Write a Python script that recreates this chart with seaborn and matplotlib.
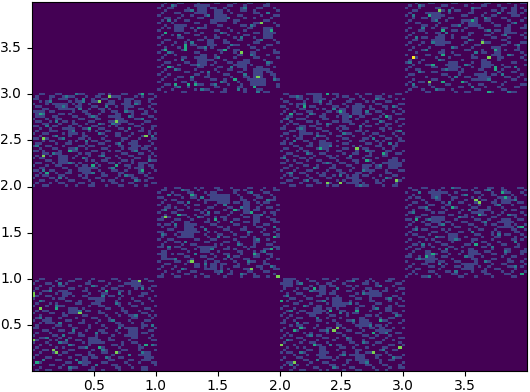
import numpy as np
import matplotlib
matplotlib.use('Agg')
import matplotlib.pyplot as plt
import seaborn as sns

# counts per bin (top row first)
# square names: x range then y range
# strings = single counts, blobs = (row, col, h, w) patches of ones,
# twos = (row, col) cells with count 2, peaks = (row, col, count)
sq_x0_y2 = """
00110001100002110000110100011000100110
01000110010110001001100011100001010001
11000100111001000010011000100110000110
00101100000101120011000110000101100100
10001011000010100100001110010001100011
01100001120001100011000001001110000100
00011000100110000100110100001000110010
11000110000010011000010011000110001001
01210000110100001100100001100010011000
00100011000011000101000110000210000110
10001001100000110001100001010001100001
01100100011010000110000110011000001100
00011000100011001000210000100110010000
11000011000100100011000101000001100011
00100100011000011000110000110100010010
01000111000100000101001100001000110100
10011000010011010000110001100010000101
00100012000100011000001001100100011000
11001000110000110100010000011000100011
00010110000101000011001100010011000100
01100001001100001000110001000110000010
10001100010000110110000100110000101100
00100011000110001000011000010100011001
11010000100011000011000101100001000100
00011001100000101100010000011000110010
01000100011001000100110001000110000101
10110000100010011000001100100001100100
00001100011000001010011000011010000011
01100010000110100001000110100010011000
10001001100001011000100001001100000110
00110000011000100011000110000101100010
11000110000100110000100011001000010001
00100001001100000110010000110000110100
01011000110000101000011000100110001000
10000110001000011001100001000011000110
00110001000110000100010110010000101000
01000100110000110010000011000110000011
10011000001001000110001000110001001000
"""
blobs_x0_y2 = [(4, 8, 3, 3), (7, 1, 3, 3), (9, 25, 4, 2), (20, 30, 4, 2), (14, 11, 3, 2), (25, 8, 4, 3), (30, 15, 3, 3), (28, 32, 4, 2), (2, 28, 3, 2)]
twos_x0_y2 = [(1, 10), (2, 15), (3, 5), (4, 31), (5, 22), (6, 14), (7, 28), (8, 3), (9, 18), (10, 33), (11, 7), (12, 24),
              (13, 4), (14, 29), (15, 12), (16, 20), (17, 36), (18, 9), (19, 16), (20, 26), (21, 1), (22, 13), (23, 31),
              (24, 6), (25, 21), (26, 15), (27, 35), (28, 11), (30, 24), (31, 3), (32, 18), (33, 28), (34, 8), (35, 31)]
peaks_x0_y2 = [(1, 23, 4), (3, 20, 4), (0, 33, 3), (11, 25, 4), (17, 34, 4), (18, 3, 4), (25, 3, 4),
               (14, 17, 3), (29, 18, 3), (23, 11, 3), (29, 25, 3), (31, 33, 3), (32, 4, 3), (8, 2, 3)]

sq_x2_y2 = """
01100000110010001100000100110001000110
00011010000110000101100010000110010000
10000110100001001000011001000011000101
01100001001100010000110000101000110000
00010110000010110001000110000110000011
11000100011000001100100001010001100100
00100011000101000011000100011000100010
01001000110000110100001100000110001001
10000110001001000011001000110001000110
00110000100011000100010011000010110000
01000111000001100001000100001100010011
10010000110100001100110000100011000100
00101100000110010000011001000100110001
01000010011000100011000010110000100010
11000100000110000101100010000011010000
00011001000001100010000110100001000110
01100000110100010000110001001100001001
10001010000011000110001000010011000100
00100110001000100001100001100000110010
01000001100011000100010011000101000011
11010000010000110001100000110010000100
00001100110001000100001010000110001100
01100010000110100001100001100001001000
10000101100000100110000100011000110001
00110000010011000001001100010000100110
01001100001000110100010000110001100000
10000011010000011000110001000100001100
00101000100110000100001100110000010001
11000110000001010011000100001001100010
00010001100100001000110000110100000110
01100100001100011000001001000110010000
10001000110000100110010000011000100011
00100011000101000011000110010000110000
01010000100011001000100001100010001100
10001100010000110000110100001000110001
00110001001100000101000110000101000010
11000010000110010000110001000110000100
00011000110000101100000101100001001100
"""
blobs_x2_y2 = [(0, 10, 4, 3), (5, 22, 4, 3), (6, 18, 3, 2), (13, 6, 4, 2), (20, 12, 3, 3), (27, 33, 4, 3), (29, 25, 3, 2), (8, 19, 4, 2), (33, 22, 4, 2)]
twos_x2_y2 = [(1, 5), (2, 29), (3, 12), (4, 7), (5, 34), (6, 16), (7, 26), (8, 9), (9, 21), (10, 2), (11, 30), (12, 14),
              (13, 24), (14, 6), (15, 36), (16, 19), (17, 11), (18, 28), (19, 4), (20, 33), (21, 15), (23, 26), (24, 8),
              (25, 21), (26, 1), (28, 14), (29, 30), (30, 10), (31, 25), (32, 3), (33, 18), (34, 32), (35, 8), (37, 24)]
peaks_x2_y2 = [(22, 23, 4), (36, 14, 4), (36, 18, 4), (35, 35, 4), (22, 12, 3), (9, 32, 3),
               (8, 3, 3), (27, 26, 3), (24, 31, 3), (7, 18, 3), (0, 14, 3), (5, 7, 3)]

sq_x1_y1 = """
00100110000101000110001000011000100100
01100000110010000011000110100001000110
10001000011000101100000100011000110000
00010110000100010000110010000110001001
11000001001100000110010001000011000100
00101100000010110000100001100100001100
01000011010000100011000110000010110000
10010000100110000100100000110001000011
00110100010000011000011000100010011000
01000011000110100000100110000110000010
10001100000001000110001000110000101100
00100001100100110000010001000110000101
01010000010011000101100000110100010000
11000110001000010000100110000010001100
00001000110000110010001000110100000110
10110000010100001100000110000100110000
01000100110001000011010000100011000101
00011000001100100000110001100000100010
11000010000110010100001000011001000100
00100101100000100011000100010000110010
01000010011000010000110001100100000110
10011000000110001100000100000110010001
00100110100000110000110010000110000100
01000001001100000101000011000100011000
11000110000010001100010000101100000110
00010001100100100000110100010000110010
01100000010001100010000011000101000001
10001011000100001000110001000010011000
00100000110001100100000110000110001000
01011000001000011000101000110000010011
10000110010000100110000100001100100000
00110000100110000001100010010000110001
01000100000110100001000110000011000100
10001001100000110001010000110001000110
00100010001100000110001000011000110000
01001000110001000010011000100100000101
11000110000100110000100001000110010000
00010000110001001100001100010000011000
"""
blobs_x1_y1 = [(3, 16, 3, 4), (4, 19, 3, 3), (15, 8, 5, 3), (18, 7, 3, 3), (24, 13, 3, 3), (26, 1, 4, 2), (6, 26, 4, 2), (12, 29, 3, 2), (31, 16, 3, 2)]
twos_x1_y1 = [(1, 7), (2, 28), (3, 3), (4, 13), (5, 33), (6, 9), (7, 20), (8, 25), (9, 2), (10, 15), (11, 31), (12, 12),
              (14, 22), (15, 5), (16, 35), (17, 14), (18, 27), (19, 1), (20, 18), (21, 30), (22, 8), (23, 24), (24, 3),
              (25, 16), (26, 32), (27, 11), (28, 21), (29, 5), (30, 27), (31, 14), (32, 34), (33, 7), (34, 19), (35, 25)]
peaks_x1_y1 = [(12, 2, 4), (30, 10, 4), (33, 28, 4), (36, 36, 4), (13, 17, 3), (11, 6, 3), (27, 29, 3),
               (25, 34, 3), (20, 35, 3), (9, 23, 3), (10, 28, 3), (3, 10, 3)]

sq_x3_y1 = """
01000110000100011000010001100100001100
00110000101000000110100010000110000010
10001001000110010000011000100011000101
00100000110001000110000100110000100010
01011000010000110000101000001100010000
10000100011000100010000110010000110001
00110010000100001100010000110001001100
01000001100011000001001000011000100000
10001100000100110000110001000100000110
00100011000010000101000011000010110000
01100000101100001000110000100100000101
10000110000001100010000110001000110010
00011000100100000110100000110000010001
11000010001100010000011001000100001100
00100100000011000110000100001100100000
01000011001000100001100010110000010010
10010000110000011000010000001100100001
00100110000101000001001100010000110010
01000000110010001100100000101000011000
10110001000000110000011000100011000100
00001100001100100010000100011000010011
01000010100000011000110000100000110100
10001000011000100000100110001000010000
00110001000110000011000001000110001001
01000100100001100100000110100000011000
10011000001000010001100000100011000010
00100011000110000100010011000001000110
01000000110001001000011000110010000100
11001000000110000011000100000100110000
00010110010000100000110000110001000011
10000001001100011000010001000001100100
00100110000010000100110000100110000010
01000001100100011000001001000001100100
10011000001000000110100010011000010001
00100001100011000000100110000100100010
01010000010000110010000011000011000100
10000110001000001100010000100000110001
00100000110010000100110001000110000010
"""
blobs_x3_y1 = [(2, 8, 3, 3), (4, 29, 3, 3), (12, 8, 3, 3), (13, 30, 4, 2), (25, 19, 4, 2), (27, 6, 4, 3), (31, 18, 3, 3), (19, 13, 3, 3), (9, 22, 3, 2)]
twos_x3_y1 = [(0, 14), (1, 25), (2, 4), (3, 18), (4, 9), (5, 33), (6, 13), (7, 28), (8, 6), (9, 19), (10, 2), (11, 31),
              (12, 16), (13, 7), (14, 24), (15, 11), (16, 34), (17, 3), (18, 20), (19, 28), (20, 9), (21, 15), (22, 33),
              (23, 5), (24, 26), (25, 12), (26, 30), (28, 18), (29, 4), (30, 24), (31, 10), (32, 33), (34, 15), (36, 7)]
peaks_x3_y1 = [(5, 21, 4), (6, 22, 4), (11, 22, 3), (8, 14, 3), (28, 6, 3), (27, 8, 3), (35, 35, 3),
               (16, 35, 3), (23, 21, 3), (13, 3, 3), (2, 29, 3), (4, 30, 3)]

sq_x2_y0 = """
00011000100001100100001100010000011000
01000100011000001000110000101000110001
10000110000100110001000001100100000110
00110000010000011000110100000110001000
01000101100010000100001000110000100011
10001000001100001000110001000001100100
00100110000010011000000101100010000001
01000001000110000100011000000110001100
00011000110000101000000110010000100010
10100010000110001100010000011000010001
00001100010000100001100100000110000100
01100000100110000001000011001000010011
10001000001000110100000100001100110000
00100011000001000011000100010000110001
01000100110000100000101100000010001100
10010000011000011000100000110100000010
00100110000100100010000011000010011000
01001000000110001000110000100001100001
11000001100000100100001000110000010010
00010110000100000110000100000110100000
01000001001000110001000010011000001001
10001100000011000000110001000100110000
00100001010000100110000110000010000110
01010000100110000001000001100100010000
10000110000001100100010000011000100011
00110001000100001000110001000001001000
01000010011000100000011000100110000010
10001000000110000110000100001000011001
00100101000001000011001000100001100000
01000000110010000100000110000010001100
10110001000001100001000100110000100000
00001000100110000010011000000110010001
01000110000000110100000011000100000110
10000001100100001000110000100010011000
00110000010001100000100011000010000001
01000100100000011001000000110001100010
10001000001100000100011000001000010011
00010011000010100001000110000100100000
"""
blobs_x2_y0 = [(0, 1, 4, 3), (3, 12, 4, 2), (8, 16, 4, 3), (12, 10, 3, 3), (17, 24, 3, 3), (28, 12, 5, 2), (31, 23, 3, 3), (20, 30, 3, 2), (5, 27, 3, 3)]
twos_x2_y0 = [(1, 22), (2, 6), (3, 30), (4, 17), (5, 9), (6, 25), (7, 2), (8, 33), (9, 13), (10, 21), (11, 7), (12, 29),
              (13, 3), (14, 18), (15, 35), (16, 11), (17, 22), (18, 5), (19, 27), (21, 14), (22, 32), (23, 9), (24, 20),
              (25, 2), (26, 25), (27, 15), (29, 31), (30, 6), (31, 19), (32, 34), (33, 11), (34, 26), (35, 3), (36, 16)]
peaks_x2_y0 = [(20, 17, 4), (21, 16, 4), (27, 0, 4), (28, 36, 4), (30, 28, 4), (34, 4, 4), (21, 4, 3),
               (20, 6, 3), (27, 10, 3), (13, 23, 3), (13, 15, 3), (9, 0, 3), (4, 10, 3), (22, 28, 3), (17, 30, 3)]

sq_x0_y0 = """
00110000100001100010000011000100001000
01000001000110000100110000100010000110
10001100001000001100000100001100100000
00100010110000100001001000110000010011
01000100000110001000010011000001000100
10011000100000011000100000110100000010
00100001001100000100011000000100011000
01001100000010011000000110010000110001
10000010110000000110010000100010000100
00110000001100100000110001000001100010
01000101000001100010000001100100010000
10001000110000000100110000100011000001
00100001000110010000001100010000001100
01011000000100001100100000011000100010
10000110010000100000110001001000011000
00100000011000011000001000100110000101
01000100100001000011000100000011000010
10010000001100010000100110000100001100
00100110000000110001000001100010010000
01000001100100000100010000110000011000
11000010000011000100001000001100010001
00011000110000001000110001000100000110
01000100000110100000011000100010011000
10000011000000110001000010001100000010
00110000100100000110000100000011000100
01000101000001100000100110000100000011
10001000011000010000110000010011000000
00100100000110000100000011010000100011
01000001010000110000110000100000110000
10011000000110000010001000011000100001
00100010011000000100011000100000011000
01000000100001100110000010000100110000
10001100000100000011000100110000000110
00010001100001001000000110000110010000
01100000001100000100011000001000100011
10000110010000001001000011000100000001
00100000100011000010000001100010011000
01001100000100000110010000100000011000
"""
blobs_x0_y0 = [(20, 29, 4, 3), (1, 30, 3, 3), (32, 15, 4, 2), (30, 34, 4, 2), (8, 19, 3, 2), (12, 11, 3, 3), (24, 17, 3, 3), (5, 9, 3, 2), (16, 4, 3, 2)]
twos_x0_y0 = [(2, 8), (4, 33), (5, 5), (6, 26), (7, 21), (9, 2), (10, 25), (11, 7), (13, 14), (15, 31), (16, 2), (17, 24),
              (18, 8), (19, 36), (20, 26), (21, 12), (22, 19), (23, 9), (24, 4), (25, 10), (26, 8), (27, 11), (27, 36),
              (28, 16), (29, 21), (30, 33), (31, 29), (32, 22), (33, 3), (33, 13), (34, 14), (35, 19), (36, 11), (3, 18)]
peaks_x0_y0 = [(1, 32, 4), (12, 2, 4), (14, 14, 4), (29, 6, 4), (30, 7, 4), (30, 25, 4), (6, 0, 4), (7, 0, 4),
               (25, 0, 4), (34, 1, 3), (5, 22, 3), (12, 7, 3), (28, 20, 3), (27, 34, 3)]

sq_x1_y3 = """
00100011000010000110000100011000010001
01000100000110010000011000100000110000
10011000010000001100100001000011000100
00100000110001100000010001100100000011
01000110000100000110001000000110010000
10000001001000110000100011000001000110
00110010000011000000110000100100001000
01000100110000001000100110000000110001
10001000000110001100000100000110000100
00100001100000100011000001100100000010
01010000001001100000010000011000100001
10000110000100000110001000100000110000
00100000110001000001100010000110000100
01001000000110000100010000110000011000
10000011000000100110000100000100110001
00110000010011000000100011000010000100
01000100100000011000110000000110000010
10001000001100000100000110010000011000
00100010000011001000010000001100100001
01000001100000100011000110000010000100
10011000000110000001000100001100000110
00100100000001100100000011000100010000
01000001100100000110000100000110000011
10000100000010011000100000110000100000
00110000110000000100011000010000011000
01000010001100001000000110001000010001
10001000000011000011000001000011000100
00100110000100000100011000100000110000
01000000110001000010000011000100011000
10010000000110010000110000100000001100
00100011000000110000001000110010000100
01000100001000001100100000011000000110
10000001100100000001100010000110000000
00110000000011001000010001000001100010
01000110010000000110000011000100000011
10001000000100110000100000100011000000
00100001100000001001100000100000110001
01010000001100100000000110001000001000
"""
blobs_x1_y3 = [(1, 12, 4, 3), (3, 17, 5, 3), (9, 5, 3, 3), (10, 32, 5, 3), (22, 12, 4, 3), (27, 29, 5, 3), (31, 28, 3, 5), (15, 15, 3, 2), (24, 24, 3, 3)]
twos_x1_y3 = [(1, 4), (2, 26), (3, 10), (4, 33), (5, 15), (6, 21), (7, 3), (9, 28), (10, 12), (12, 19), (13, 6), (14, 25),
              (15, 31), (16, 10), (17, 22), (18, 14), (20, 3), (21, 28), (22, 18), (23, 7), (24, 33), (25, 12), (26, 22),
              (27, 5), (28, 15), (29, 26), (30, 10), (31, 35), (32, 19), (34, 6), (35, 24), (35, 13), (36, 30), (33, 17)]
peaks_x1_y3 = [(8, 31, 4), (20, 25, 4), (30, 30, 4), (18, 8, 3), (17, 8, 3), (19, 8, 3), (12, 2, 3), (19, 2, 3),
               (11, 34, 3), (26, 3, 3), (19, 20, 3), (31, 23, 3), (34, 29, 3), (33, 5, 3), (33, 9, 3), (33, 11, 3)]

sq_x3_y3 = """
00010001100000110000100011000001000110
01000100000110000010000110001000010000
10001000011000100000011000000110000101
00110000000100011000100000110100000010
01000011000001000001100010000001100100
10000000110100000110000100110000001000
00100110000001100000010001000110000011
01000000100010000110000011000001000100
10011000001000000100110000100000110000
00000110010000110000001000011001000010
01000000100110000010001100000010000110
10001100000000110100000010011000000001
00100010011000000001100000100000110010
01000000001100100001000011000100000100
10000110000000100110000000110001000010
00110000100100000001100100000110000000
01000100000011000010000011000001000110
10001000011000000100011000000110010000
00100001000000110000100000110000001001
01000110000100000011000100000010011000
00010000001100100000000110001000000100
10000011000000011000100000110000100011
00110000010001000000110000001100000100
01000100001100000100000110001000000010
10001000000000110000100011000000110000
00100011000010000001000001100100000011
01000000110000011000100000010011000000
10011000000100000100001100000100001000
00000100110000001100000010001000110001
01100000000110001000010000110000000100
10000010000001000011000001000011001000
00100000110000100000110001000000110010
01001100000100000110000000110010000000
10000001000011000001001100000100000110
00110000100000001100000010001000011000
01000100001100100000011000000110000001
10000011000000010011000000100000110000
00100000100110000000100011000010000010
"""
blobs_x3_y3 = [(4, 8, 3, 3), (14, 9, 4, 3), (7, 19, 3, 3), (18, 27, 4, 2), (24, 13, 4, 3), (29, 22, 3, 3), (24, 23, 3, 3), (2, 32, 4, 2), (10, 30, 3, 2)]
twos_x3_y3 = [(1, 4), (2, 20), (3, 13), (4, 28), (5, 2), (6, 24), (7, 9), (8, 33), (9, 16), (10, 5), (11, 25), (12, 12),
              (13, 30), (14, 3), (15, 19), (16, 8), (17, 34), (18, 14), (19, 6), (20, 21), (21, 31), (23, 10), (24, 1),
              (25, 18), (26, 33), (27, 12), (28, 4), (29, 29), (30, 15), (31, 25), (33, 2), (34, 20), (35, 9), (36, 31)]
peaks_x3_y3 = [(22, 2, 5), (3, 10, 4), (16, 23, 4), (22, 25, 4), (32, 7, 4), (26, 27, 3), (27, 27, 3), (19, 27, 3),
               (21, 11, 3), (25, 8, 3), (32, 11, 3), (32, 17, 3), (36, 25, 3), (7, 20, 3), (5, 7, 3), (11, 11, 3)]

tick_values = [0.5, 1.0, 1.5, 2.0, 2.5, 3.0, 3.5]
tick_labels = ['0.5', '1.0', '1.5', '2.0', '2.5', '3.0', '3.5']

nbins = 150
# bin where each unit starts, 37.5 bins per unit so the squares differ by one
edges = [0, 38, 75, 113, 150]


def fill_square(counts, text, blobs, twos, peaks, ix, iy):
    # ix, iy are the data units of the square's lower left corner
    left, right = edges[ix], edges[ix + 1]
    # row 0 of counts is the top of the picture
    top, bottom = nbins - edges[iy + 1], nbins - edges[iy]
    h, w = bottom - top, right - left
    sq = np.array([[int(c) for c in row] for row in text.strip().splitlines()])[:h, :w]
    for r, c, bh, bw in blobs:
        sq[r:r + bh, c:c + bw] = np.maximum(sq[r:r + bh, c:c + bw], 1)
    for r, c in twos:
        sq[min(r, h - 1), min(c, w - 1)] = 2
    for r, c, v in peaks:
        sq[min(r, h - 1), min(c, w - 1)] = v
    counts[top:bottom, left:right] = sq


counts = np.zeros((nbins, nbins), dtype=int)
fill_square(counts, sq_x0_y0, blobs_x0_y0, twos_x0_y0, peaks_x0_y0, 0, 0)
fill_square(counts, sq_x2_y0, blobs_x2_y0, twos_x2_y0, peaks_x2_y0, 2, 0)
fill_square(counts, sq_x1_y1, blobs_x1_y1, twos_x1_y1, peaks_x1_y1, 1, 1)
fill_square(counts, sq_x3_y1, blobs_x3_y1, twos_x3_y1, peaks_x3_y1, 3, 1)
fill_square(counts, sq_x0_y2, blobs_x0_y2, twos_x0_y2, peaks_x0_y2, 0, 2)
fill_square(counts, sq_x2_y2, blobs_x2_y2, twos_x2_y2, peaks_x2_y2, 2, 2)
fill_square(counts, sq_x1_y3, blobs_x1_y3, twos_x1_y3, peaks_x1_y3, 1, 3)
fill_square(counts, sq_x3_y3, blobs_x3_y3, twos_x3_y3, peaks_x3_y3, 3, 3)

fig, ax = plt.subplots(figsize=(5.3, 3.92), dpi=100)
sns.heatmap(counts, cmap='viridis', vmin=0, vmax=5, cbar=False, ax=ax)

# heatmap works in bin numbers, so turn the data values into bins
scale = nbins / 4
ax.set_xticks([v * scale for v in tick_values])
ax.set_xticklabels(tick_labels, rotation=0)
ax.set_yticks([(4 - v) * scale for v in tick_values])
ax.set_yticklabels(tick_labels, rotation=0)
ax.tick_params(axis='x', pad=2.5)

for spine in ax.spines.values():
    spine.set_visible(True)

fig.subplots_adjust(left=32 / 530, right=527 / 530, top=1 - 2 / 392, bottom=1 - 371 / 392)
plt.savefig('out.png', dpi=100)
